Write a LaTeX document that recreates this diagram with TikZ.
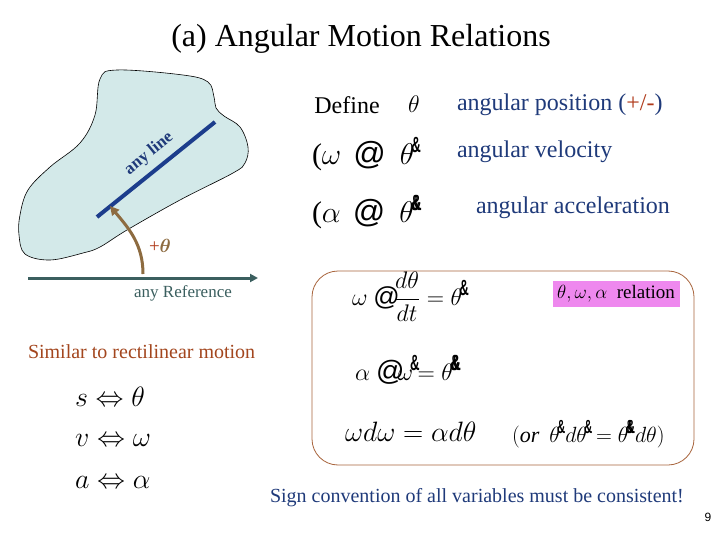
\RequirePackage{fix-cm}
\documentclass[tikz,border=0pt]{standalone}
\usepackage{amsmath}
\usepackage{amssymb}
\usepackage{graphicx}
\usepackage{fontspec}
\setmainfont{Liberation Serif}
\newfontfamily\symfont{Liberation Sans}
\usepackage{tikz}
\usetikzlibrary{arrows.meta}
\definecolor{bodyfill}{HTML}{D3E9E9}
\definecolor{lineblue}{HTML}{1C3D8C}
\definecolor{textblue}{HTML}{1F3A7A}
\definecolor{arcbrown}{HTML}{8D6B40}
\definecolor{refgray}{HTML}{3B5F5F}
\definecolor{simbrown}{HTML}{A3461E}
\definecolor{boxbrown}{HTML}{A8643C}
\definecolor{tagpink}{HTML}{EE88EE}
\definecolor{signred}{HTML}{B03A1A}
\newcommand{\fsz}[1]{\fontsize{#1}{#1}\selectfont}
\newcommand{\gdot}[1][22]{\kern-3pt\raisebox{.42em}{\symfont\bfseries\fsz{#1}\scalebox{.6}[1]{\&}}}
\newcommand{\gddot}[1][22]{\kern-3pt\raisebox{.42em}{\symfont\bfseries\fsz{#1}\scalebox{.6}[1]{\rlap{\&}\kern2pt\&}}}
\newcommand{\atg}[1][32]{{\symfont\fsz{#1}@}}
\tikzset{
    every node/.style={inner sep=0pt, outer sep=0pt, font=\fsz{24}}
}
\tikzset{
    blue text/.style={text=textblue, anchor=west},
    eq/.style={anchor=west}
}

\begin{document}
\begin{tikzpicture}
  \useasboundingbox (0pt, 0pt) rectangle (720pt, -540pt);
  \fill[white] (0pt, 0pt) rectangle (720pt, -540pt);
  \node (title) [font=\fsz{32}] at (361pt, -39pt) {(a) Angular Motion Relations};

  % rigid body
  \draw[fill=bodyfill, line width=.6pt] plot[smooth cycle, tension=.6] coordinates {
    (100pt,-79pt) (117pt,-70pt) (183pt,-75pt) (208pt,-82pt) (214pt,-97pt)
    (216pt,-108pt) (224pt,-116pt) (240pt,-127pt) (248pt,-147pt) (245pt,-163pt)
    (233pt,-173pt) (180pt,-200pt) (127pt,-230pt) (100pt,-247pt) (83pt,-253pt)
    (50pt,-260pt) (25pt,-254pt) (19pt,-235pt) (20pt,-215pt) (28pt,-190pt)
    (50pt,-167pt) (80pt,-143pt) (95pt,-115pt)};
  \coordinate (l0) at (97pt, -217pt);
  \coordinate (l1) at (215pt, -122pt);
  \draw[lineblue, line width=4pt] (l0) -- (l1);
  \node (al) [rotate=39, font=\fsz{17}\bfseries, text=textblue] at (149pt, -154pt) {any line};

  \coordinate (ref0) at (28pt, -278pt);
  \coordinate (ref1) at (258pt, -278pt);
  \coordinate (r0) at (143pt, -274pt);
  \coordinate (r1) at (110pt, -206pt);
  \draw[refgray, line width=3pt, -{Triangle[length=8pt, width=8pt]}] (ref0) -- (ref1);
  \draw[arcbrown, line width=3pt, -{Triangle[length=9pt, width=9pt]}] (r0) to[out=90, in=-50] (r1);
  \node (pt) [font=\fsz{19}] at (160pt, -246pt) {\textcolor{signred}{+}\textcolor{arcbrown}{$\boldsymbol{\theta}$}};
  \node (ref) [font=\fsz{17}, text=refgray] at (183pt, -293pt) {any Reference};

  % definitions
  \node (def) at (347pt, -105pt) {Define};
  \node (th) at (414pt, -104pt) {$\theta$};
  \node (pos) [blue text] at (457pt, -105pt) {angular position (\textcolor{signred}{+/-})};
  \node (w) [eq, font=\fsz{30}] at (312pt, -154pt) {($\omega$\hspace{12pt}\atg\hspace{14pt}$\theta$\gdot};
  \node (vel) [blue text] at (457pt, -152pt) {angular velocity};
  \node (a) [eq, font=\fsz{30}] at (312pt, -212pt) {($\alpha$\hspace{12pt}\atg\hspace{14pt}$\theta$\gddot};
  \node (acc) [blue text] at (476pt, -208pt) {angular acceleration};

  % relations
  \node (box) [draw=boxbrown, line width=.8pt, rounded corners=26pt, minimum width=382pt, minimum height=194pt] at (503pt, -368pt) {};
  \node (tag) [fill=tagpink, minimum width=127pt, minimum height=26pt, font=\fsz{19}] at (616pt, -294pt) {$\theta,\omega,\alpha$\ \ relation};
  \node (e1) [eq] at (352pt, -297pt) {$\omega$\ \atg[26]\kern-6pt$\dfrac{d\theta}{dt} = \theta$\gdot};
  \node (e2) [eq] at (355pt, -370pt) {$\alpha$\ \atg[28]\kern-7pt$\omega$\gdot\kern-2pt$=\theta$\gddot};
  \node (e3) [eq, font=\fsz{28}] at (345pt, -432pt) {$\omega d\omega = \alpha d\theta$};
  \node (e4) [eq, font=\fsz{22}] at (512pt, -434pt) {$($\textit{or}\hspace{10pt}$\theta$\gdot[19]$d\theta$\gdot[19]$\,=\theta$\gddot[19]$d\theta)$};

  \node (sim) [eq, font=\fsz{20}, text=simbrown] at (28pt, -352pt) {Similar to rectilinear motion};
  \node (s) [eq, font=\fsz{28}] at (75pt, -397pt) {$s\Leftrightarrow\theta$};
  \node (v) [eq, font=\fsz{28}] at (75pt, -440pt) {$v\Leftrightarrow\omega$};
  \node (aa) [eq, font=\fsz{28}] at (75pt, -482pt) {$a\Leftrightarrow\alpha$};
  \node (sign) [eq, font=\fsz{20}, text=textblue] at (270pt, -498pt) {Sign convention of all variables must be consistent!};
  \node (pg) [font=\fsz{12}\symfont] at (708pt, -517pt) {9};
\end{tikzpicture}
\end{document}
